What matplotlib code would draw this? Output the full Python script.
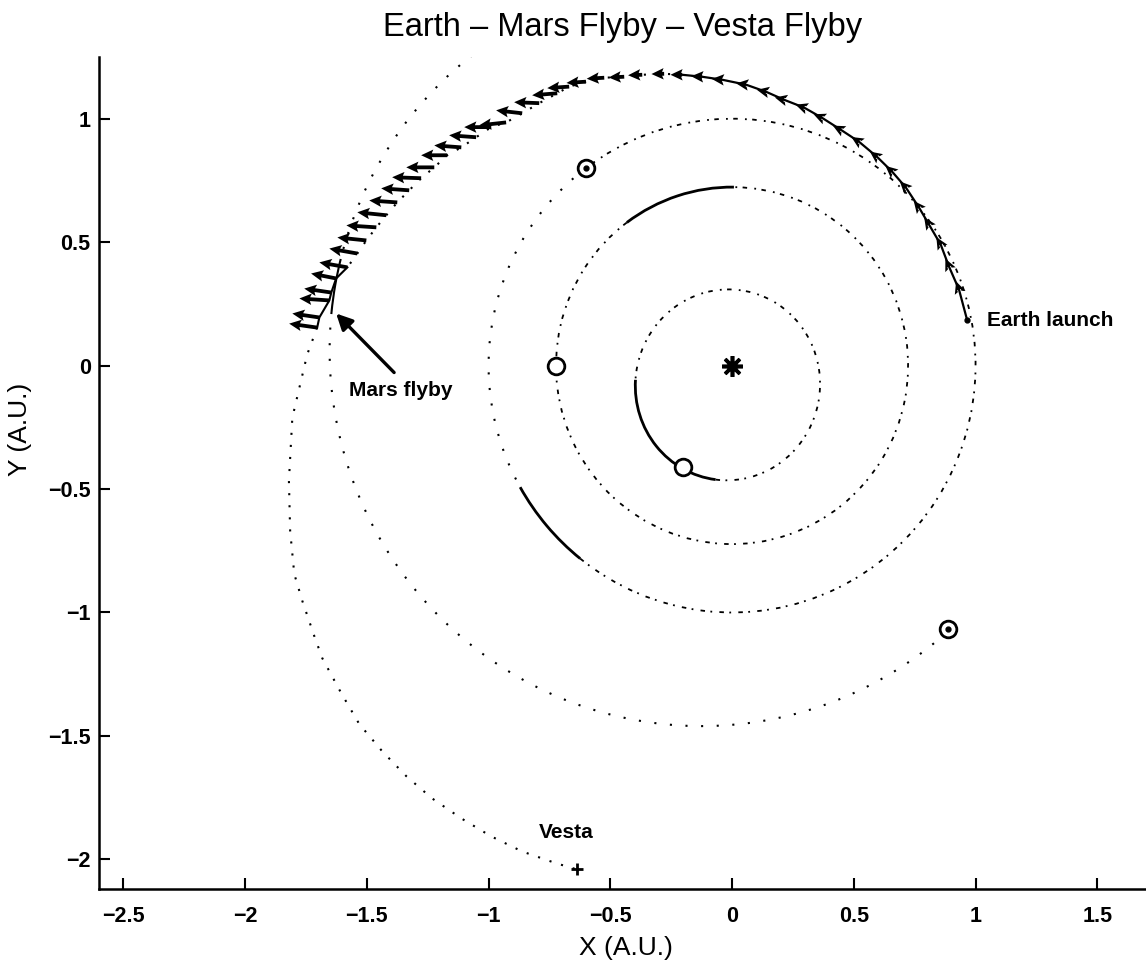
import numpy as np
import matplotlib
matplotlib.use('Agg')
import matplotlib.pyplot as plt
from matplotlib.patches import Arc

plt.rcParams['font.family'] = ['Liberation Sans', 'DejaVu Sans']

# orbits: centre x, centre y, semi-major, semi-minor, tilt (deg)
mercury_orbit = (-0.018, -0.078, 0.387, 0.379, 77.0)
venus_orbit = (0.0, 0.0, 0.723, 0.723, 0.0)
earth_orbit = (0.0, 0.0, 1.0, 1.0, 0.0)
mars_orbit = (-0.130, 0.058, 1.524, 1.517, 336.0)

# arc pieces, angles in the orbit's own frame
mercury_solid = (99.9, 185.6)
venus_solid = (89.4, 126.7)
earth_solid = (209.5, 231.4)
earth_dotted = (127.0, 209.5)
mars_solid = (189.8, 198.0)
mars_dotted = [(140.0, 189.8), (198.0, 336.2)]

# Earth -> Mars spiral (launch point first, then thrust-vector bases)
traj_x = [0.965, 0.932, 0.891, 0.857, 0.809, 0.768, 0.714, 0.657, 0.595, 0.521,
          0.447, 0.369, 0.296, 0.213, 0.140, 0.057, -0.041, -0.123, -0.205, -0.279,
          -0.369, -0.443, -0.525, -0.600, -0.669, -0.718, -0.792, -0.862, -0.928, -0.989,
          -1.051, -1.112, -1.170, -1.223, -1.277, -1.326, -1.375, -1.420, -1.461, -1.502,
          -1.539, -1.580, -1.626, -1.646, -1.654, -1.695, -1.704]
traj_y = [0.186, 0.308, 0.401, 0.490, 0.571, 0.640, 0.721, 0.786, 0.846, 0.907,
          0.955, 1.004, 1.045, 1.077, 1.109, 1.138, 1.158, 1.170, 1.178, 1.182,
          1.178, 1.170, 1.166, 1.150, 1.130, 1.103, 1.063, 1.022, 0.985, 0.966,
          0.925, 0.884, 0.852, 0.803, 0.759, 0.710, 0.661, 0.609, 0.560, 0.507,
          0.454, 0.398, 0.353, 0.296, 0.264, 0.195, 0.154]
thrust_u = [-0.012, -0.015, -0.018, -0.020, -0.022, -0.025, -0.027, -0.029, -0.031, -0.033,
            -0.034, -0.035, -0.037, -0.038, -0.040, -0.042, -0.045, -0.048, -0.052, -0.058,
            -0.064, -0.072, -0.080, -0.090, -0.103, -0.103, -0.107, -0.111, -0.111, -0.111,
            -0.111, -0.107, -0.115, -0.119, -0.115, -0.115, -0.119, -0.123, -0.119, -0.115,
            -0.115, -0.103, -0.111, -0.123, -0.111, -0.115]
thrust_v = [0.033, 0.032, 0.030, 0.029, 0.027, 0.025, 0.023, 0.021, 0.019, 0.017,
            0.014, 0.012, 0.009, 0.008, 0.005, 0.003, 0.002, 0.0, -0.001, -0.002,
            -0.003, -0.004, -0.005, -0.006, -0.008, 0.004, 0.012, -0.012, 0.0, 0.008,
            0.008, 0.0, 0.0, 0.004, 0.008, 0.008, 0.012, 0.008, 0.012, 0.020,
            0.020, 0.020, 0.016, 0.008, 0.016, 0.016]

# Mars -> Vesta leg
vesta_leg_x = [-1.704, -1.745, -1.806, -1.820, -1.815, -1.798, -1.765, -1.716, -1.683, -1.605,
               -1.531, -1.437, -1.338, -1.232, -1.112, -0.989, -0.862, -0.722, -0.636]
vesta_leg_y = [0.154, 0.045, -0.211, -0.467, -0.669, -0.844, -0.953, -1.095, -1.185, -1.327,
               -1.452, -1.562, -1.663, -1.753, -1.834, -1.907, -1.968, -2.016, -2.041]

sun = (0.0, 0.0)
earth_pos = (-0.600, 0.799)
mars_pos = (0.885, -1.065)
venus_pos = (-0.723, 0.0)
mercury_pos = (-0.200, -0.410)
vesta_pos = (-0.636, -2.041)
flyby_arrow = [(-1.388, -0.028), (-1.626, 0.211)]

xticks = [-2.5, -2, -1.5, -1, -0.5, 0, 0.5, 1, 1.5]
yticks = [-2, -1.5, -1, -0.5, 0, 0.5, 1]

DASHDOT = (0, (2.5, 3, 1, 4))
DOTS = (0, (1, 6.5))
DOTS_FINE = (0, (1, 4.8))


def orbit_arc(ax, orbit, t1, t2, ls, lw):
    cx, cy, a, b, tilt = orbit
    ax.add_patch(Arc((cx, cy), 2 * a, 2 * b, angle=tilt, theta1=t1, theta2=t2,
                     color='k', ls=ls, lw=lw))


fig = plt.figure(figsize=(11.46, 9.65), dpi=100)
ax = fig.add_axes([99 / 1146, (965 - 889) / 965, 1047 / 1146, (889 - 57) / 965])

# Mercury, Venus: dash-dot with a solid piece
for orb, sol in [(mercury_orbit, mercury_solid), (venus_orbit, venus_solid)]:
    orbit_arc(ax, orb, sol[1], sol[0], DASHDOT, 1.3)
    orbit_arc(ax, orb, sol[0], sol[1], '-', 2.0)

# Earth
orbit_arc(ax, earth_orbit, earth_solid[1], earth_dotted[0], DASHDOT, 1.3)
orbit_arc(ax, earth_orbit, earth_dotted[0], earth_dotted[1], DOTS, 1.5)
orbit_arc(ax, earth_orbit, earth_solid[0], earth_solid[1], '-', 2.0)

# Mars
for t1, t2 in mars_dotted:
    orbit_arc(ax, mars_orbit, t1, t2, DOTS, 1.5)
orbit_arc(ax, mars_orbit, mars_solid[0], mars_solid[1], '-', 1.5)

# spiral trajectory
tx = np.array(traj_x)
ty = np.array(traj_y)
ax.plot(tx[:19], ty[:19], 'k-', lw=1.6)
ax.plot(tx[18:42], ty[18:42], color='k', ls=DOTS_FINE, lw=1.5)
ax.plot(tx[41:], ty[41:], 'k-', lw=1.5)
ax.quiver(tx[1:], ty[1:], thrust_u, thrust_v, angles='xy', scale_units='xy', scale=1,
          units='dots', width=3.8, headwidth=3.0, headlength=3.2, headaxislength=2.8,
          minshaft=0.3, color='k', zorder=3)

ax.plot(vesta_leg_x, vesta_leg_y, color='k', ls=DOTS_FINE, lw=1.5)

# bodies
ax.plot(*sun, marker=(8, 2, 0), ms=15, mew=2.6, color='k')
for p in [earth_pos, mars_pos, venus_pos, mercury_pos]:
    ax.plot(*p, 'o', ms=12, mfc='white', mec='k', mew=2.0)
for p in [earth_pos, mars_pos]:
    ax.plot(*p, 'k.', ms=7)
ax.plot(tx[0], ty[0], 'k.', ms=7)
ax.plot(*vesta_pos, 'k+', ms=9, mew=2)

ax.annotate('', xy=flyby_arrow[1], xytext=flyby_arrow[0],
            arrowprops=dict(arrowstyle='-|>', color='k', lw=2.4, mutation_scale=24,
                            shrinkA=0, shrinkB=0))
ax.text(1.047, 0.183, 'Earth launch', fontsize=15, fontweight='bold', va='center', ha='left')
ax.text(-1.572, -0.10, 'Mars flyby', fontsize=15, fontweight='bold', va='center', ha='left')
ax.text(-0.792, -1.89, 'Vesta', fontsize=15, fontweight='bold', va='center', ha='left')

ax.set_xlim(-2.6, 1.7)
ax.set_ylim(-2.12, 1.25)
ax.set_xticks(xticks)
ax.set_yticks(yticks)
ax.set_xticklabels([('%g' % v).replace('-', '\u2212') for v in xticks])
ax.set_yticklabels([('%g' % v).replace('-', '\u2212') for v in yticks])
ax.tick_params(direction='in', length=8, width=1.5, labelsize=15.5, pad=6)
ax.tick_params(axis='x', pad=12)
for lab in ax.get_xticklabels() + ax.get_yticklabels():
    lab.set_fontweight('bold')
for s in ['top', 'right']:
    ax.spines[s].set_visible(False)
for s in ['left', 'bottom']:
    ax.spines[s].set_linewidth(1.8)

ax.set_title('Earth \u2013 Mars Flyby \u2013 Vesta Flyby', fontsize=23.5, pad=15)
ax.set_xlabel('X (A.U.)', fontsize=19, va='center')
ax.set_ylabel('Y (A.U.)', fontsize=19, va='center', ha='center')
ax.xaxis.set_label_coords(0.503, -0.0705)
ax.yaxis.set_label_coords(-0.0755, 0.552)

fig.savefig('out.png', dpi=100)
